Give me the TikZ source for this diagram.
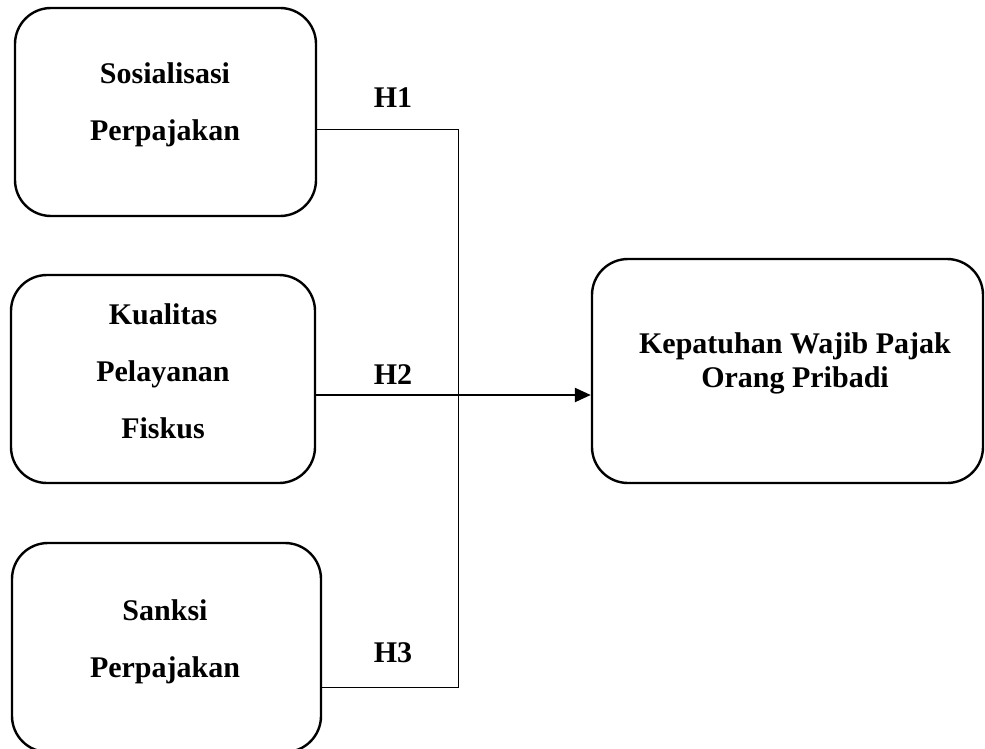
\documentclass[tikz,border=0pt]{standalone}
\usepackage{fontspec}
\setmainfont{Liberation Serif}
\usepackage{tikz}
\usetikzlibrary{positioning,arrows.meta}

\begin{document}
\begin{tikzpicture}[x=1pt, y=-1pt,
    box/.style = {draw, line width=2.4pt, rounded corners=36pt, inner sep=0pt},
    var/.style = {align=center, font=\bfseries\fontsize{30}{57}\selectfont},
    hyp/.style = {anchor=base, font=\bfseries\fontsize{30}{34}\selectfont}]
    \useasboundingbox (0,0) rectangle (985,749);
    % variables
    \node[box, minimum width=301pt, minimum height=208pt] (sos) at (165.5,112) {};
    \node[box, minimum width=304pt, minimum height=208pt] (kual) at (163,379) {};
    \node[box, minimum width=309pt, minimum height=209pt] (sank) at (166.5,647.5) {};
    \node[box, minimum width=391pt, minimum height=224pt] (kep) at (787.5,371) {};
    \node[var] (sosT) at (165,104.5) {Sosialisasi\\Perpajakan};
    \node[var] (kualT) at (163,371.2) {Kualitas\\Pelayanan\\Fiskus};
    \node[var] (sankT) at (165,641.9) {Sanksi\\Perpajakan};
    \node[var, font=\bfseries\fontsize{30}{34}\selectfont] (kepT) at (795,363.4) {Kepatuhan Wajib Pajak\\Orang Pribadi};
    % hypotheses
    \coordinate (top) at (458,129);
    \coordinate (mid) at (458,395);
    \coordinate (bot) at (458,687);
    \draw[line width=0.9pt] (sos.east |- top) -- (top) -- (bot) -- (sank.east |- bot);
    \draw[line width=2.4pt, -{Triangle[length=16pt, width=14pt]}] (kual.east |- mid) -- (kep.west |- mid);
    \node[hyp] (h1) at (393,108) {H1};
    \node[hyp] (h2) at (393,384) {H2};
    \node[hyp] (h3) at (393,662) {H3};
\end{tikzpicture}
\end{document}
